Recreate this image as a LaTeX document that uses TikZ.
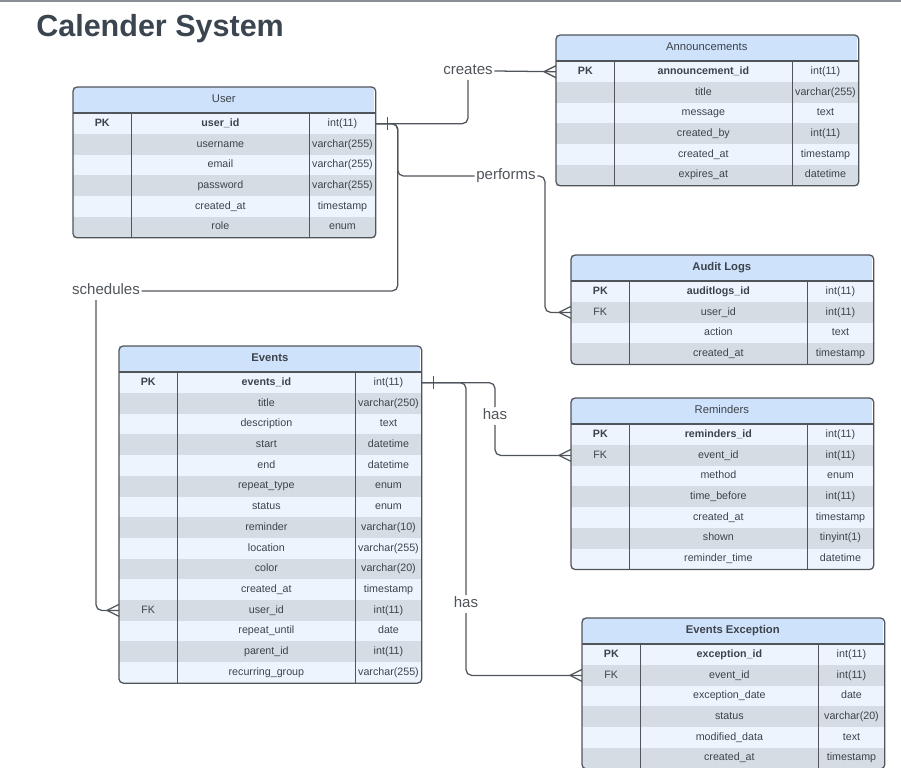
\documentclass[tikz,border=0pt]{standalone}
\usepackage{fontspec}
\setmainfont{Liberation Sans}
\usepackage{tikz}
\usetikzlibrary{calc, positioning}
\definecolor{HeadBlue}{HTML}{CFE2FC}
\definecolor{RowLight}{HTML}{EEF4FD}
\definecolor{RowDark}{HTML}{D6DCE4}
\definecolor{FrameGray}{HTML}{50555C}
\definecolor{TextGray}{HTML}{3D434A}
\definecolor{TitleGray}{HTML}{3B4550}
\definecolor{RuleGray}{HTML}{8A8F95}
\tikzset{
  tblhead/.style={rectangle, fill=HeadBlue, minimum width=7.525cm, minimum height=0.6375cm, inner sep=0pt, text height=6pt, text depth=1.8pt, font=\fontsize{8}{9.6}\selectfont, text=TextGray},
  cell/.style={rectangle, minimum height=0.5175cm, inner sep=0pt, text height=5.6pt, text depth=1.7pt, text=TextGray, anchor=north west},
  keycell/.style={cell, minimum width=1.45cm},
  fieldcell/.style={cell, minimum width=4.425cm},
  typecell/.style={cell, minimum width=1.65cm},
  tblframe/.style={draw=FrameGray, line width=0.9pt},
  conn/.style={draw=FrameGray, line width=0.9pt, rounded corners=4pt},
  rellabel/.style={fill=white, inner sep=1pt, text height=8pt, text depth=2.4pt, text=FrameGray, font=\fontsize{10.7}{12}\selectfont},
  crowfoot/.pic={\draw[conn] (-12,0) -- (0,-6) (-12,0) -- (0,6);},
  onebar/.pic={\draw[conn] (0,-6.5) -- (0,6.5);}
}
\newcommand{\tblfont}{\fontsize{7.6}{9}\selectfont}
\newcommand{\erdtable}[4]{%
  \node[tblhead, anchor=north west] (#1) at (#2) {#3};
  \foreach [count=\i] \kk/\fld/\typ in {#4} {
    \ifodd\i\relax\def\rowcol{RowLight}\else\def\rowcol{RowDark}\fi
    \ifnum\i=1\relax\def\rowfont{\bfseries}\else\def\rowfont{}\fi
    \node[keycell, fill=\rowcol, font=\tblfont\rowfont] (#1-\i-key) at ($(#1.south west)+(0,{(\i-1)*20.7})$) {\kk};
    \node[fieldcell, fill=\rowcol, font=\tblfont\rowfont] (#1-\i-field) at (#1-\i-key.north east) {\fld};
    \node[typecell, fill=\rowcol, font=\tblfont] (#1-\i-type) at (#1-\i-field.north east) {\typ};
    \xdef\lastrow{\i}
  }
  \draw[tblframe] (#1.south west) -- (#1.south east);
  \draw[tblframe] (#1-1-key.north east) -- (#1-\lastrow-key.south east);
  \draw[tblframe] (#1-1-field.north east) -- (#1-\lastrow-field.south east);
  \draw[tblframe, rounded corners=3pt] (#1.north west) rectangle (#1-\lastrow-type.south east);
}

\begin{document}
\begin{tikzpicture}[x=0.025cm, y=-0.025cm]
  \useasboundingbox (0,0) rectangle (901,768);
  \draw[RuleGray, line width=0.8pt] (0,1) -- (901,1);
  \node[anchor=base west, inner sep=0pt, text=TitleGray, font=\fontsize{21.7}{26}\selectfont\bfseries] (title) at (36,37) {Calender System};

  \erdtable{user}{73,87}{User}{PK/user\_id/int(11), {}/username/varchar(255), {}/email/varchar(255), {}/password/varchar(255), {}/created\_at/timestamp, {}/role/enum}
  \erdtable{ann}{556,35}{Announcements}{PK/announcement\_id/int(11), {}/title/varchar(255), {}/message/text, {}/created\_by/int(11), {}/created\_at/timestamp, {}/expires\_at/datetime}
  \erdtable{audit}{571,255}{\bfseries Audit Logs}{PK/auditlogs\_id/int(11), FK/user\_id/int(11), {}/action/text, {}/created\_at/timestamp}
  \erdtable{rem}{571,398}{Reminders}{PK/reminders\_id/int(11), FK/event\_id/int(11), {}/method/enum, {}/time\_before/int(11), {}/created\_at/timestamp, {}/shown/tinyint(1), {}/reminder\_time/datetime}
  \erdtable{events}{119,346}{\bfseries Events}{PK/events\_id/int(11), {}/title/varchar(250), {}/description/text, {}/start/datetime, {}/end/datetime, {}/repeat\_type/enum, {}/status/enum, {}/reminder/varchar(10), {}/location/varchar(255), {}/color/varchar(20), {}/created\_at/timestamp, FK/user\_id/int(11), {}/repeat\_until/date, {}/parent\_id/int(11), {}/recurring\_group/varchar(255)}
  \erdtable{exc}{582,618}{\bfseries Events Exception}{PK/exception\_id/int(11), FK/event\_id/int(11), {}/exception\_date/date, {}/status/varchar(20), {}/modified\_data/text, {}/created\_at/timestamp}

  \node[rellabel] (creates) at (468,71) {creates};
  \node[rellabel] (performs) at (506,176) {performs};
  \node[rellabel] (schedules) at (106,291) {schedules};
  \node[rellabel] (has1) at (495,416) {has};
  \node[rellabel] (has2) at (466,604) {has};

  \draw[conn] (user-1-type.east) -| (creates.south);
  \draw[conn] (creates.east) -- (ann-1-key.west);
  \draw[conn] (user-1-type.east) -- ++(22,0) |- (performs.west);
  \draw[conn] (performs.east) -| ($(audit-2-key.west)+(-26,0)$) -- (audit-2-key.west);
  \draw[conn] (user-1-type.east) -- ++(22,0) |- (schedules.east);
  \draw[conn] ($(schedules.south)+(-10,0)$) |- (events-12-key.west);
  \draw[conn] (events-1-type.east) -| (has1.north);
  \draw[conn] (has1.south) |- (rem-2-key.west);
  \draw[conn] (events-1-type.east) -| (has2.north);
  \draw[conn] (has2.south) |- (exc-2-key.west);

  \pic at ($(user-1-type.east)+(12,0)$) {onebar};
  \pic at ($(events-1-type.east)+(12,0)$) {onebar};
  \pic at (ann-1-key.west) {crowfoot};
  \pic at (audit-2-key.west) {crowfoot};
  \pic at (events-12-key.west) {crowfoot};
  \pic at (rem-2-key.west) {crowfoot};
  \pic at (exc-2-key.west) {crowfoot};
\end{tikzpicture}
\end{document}
